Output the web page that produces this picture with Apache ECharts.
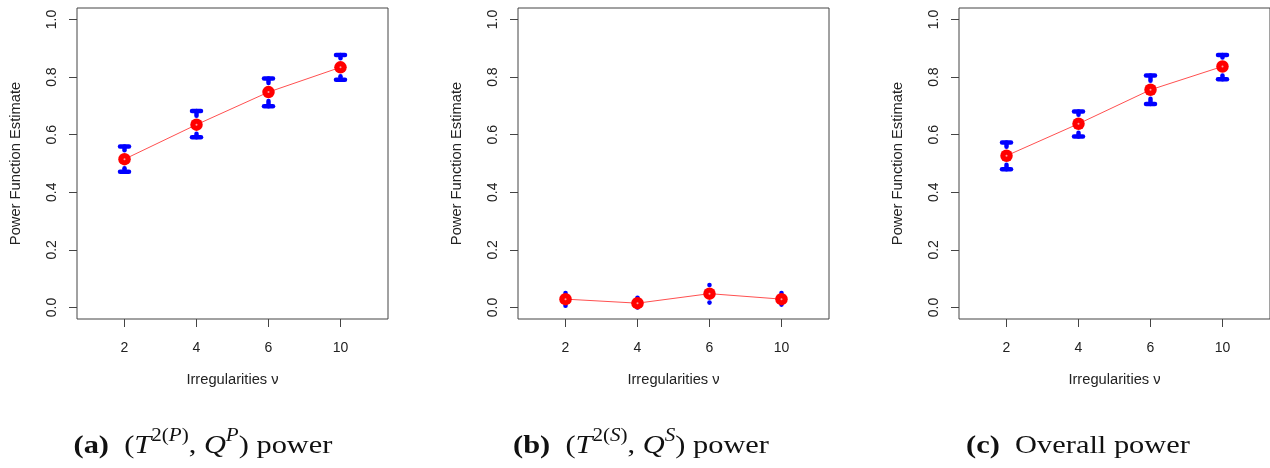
<!DOCTYPE html>
<html>
<head>
<meta charset="utf-8">
<script src="https://cdn.jsdelivr.net/npm/echarts@6/dist/echarts.min.js"></script>
<style>
  html, body { margin: 0; padding: 0; background: #fff; }
  #chart { width: 1270px; height: 468px; }
</style>
</head>
<body>
<div id="chart"></div>
<script>
// irregularity levels (x categories, placed at positions 1..4)
var xLabels = ['2', '4', '6', '10'];
var xPos = [1, 2, 3, 4];
var yTicks = [0, 0.2, 0.4, 0.6, 0.8, 1.0];

// (a) (T2(P), QP) power
var meanA = [0.515, 0.635, 0.748, 0.834];
var lowA  = [0.471, 0.591, 0.699, 0.791];
var highA = [0.559, 0.682, 0.795, 0.877];

// (b) (T2(S), QS) power
var meanB = [0.029, 0.015, 0.048, 0.029];
var lowB  = [0.006, 0.000, 0.017, 0.010];
var highB = [0.050, 0.034, 0.078, 0.050];

// (c) overall power
var meanC = [0.527, 0.638, 0.756, 0.837];
var lowC  = [0.480, 0.594, 0.707, 0.793];
var highC = [0.573, 0.681, 0.806, 0.877];

var panels = [
    { left: 77,  mean: meanA, low: lowA, high: highA },
    { left: 518, mean: meanB, low: lowB, high: highB },
    { left: 959, mean: meanC, low: lowC, high: highC }
];

var myChart = echarts.init(document.getElementById('chart'));

var GAP = 9;      // gap (px) kept free around the mean point
var CAP = 4.5;    // half width of the whisker caps

function renderBar(params, api) {
    var x = api.value(0);
    var pLo = api.coord([x, api.value(1)]);
    var pHi = api.coord([x, api.value(2)]);
    var pM = api.coord([x, api.value(3)]);
    var st = { stroke: '#0000ff', lineWidth: 4.5, lineCap: 'round' };
    var kids = [];
    // upper whisker
    if (pM[1] - GAP > pHi[1] + 1) {
        kids.push({ type: 'line', shape: { x1: pHi[0], y1: pHi[1], x2: pM[0], y2: pM[1] - GAP }, style: st });
        kids.push({ type: 'line', shape: { x1: pHi[0] - CAP, y1: pHi[1], x2: pHi[0] + CAP, y2: pHi[1] }, style: st });
    } else {
        kids.push({ type: 'circle', shape: { cx: pHi[0], cy: pHi[1], r: 2.3 }, style: { fill: '#0000ff' } });
    }
    // lower whisker
    if (pLo[1] - GAP > pM[1] + 1) {
        kids.push({ type: 'line', shape: { x1: pLo[0], y1: pLo[1], x2: pM[0], y2: pM[1] + GAP }, style: st });
        kids.push({ type: 'line', shape: { x1: pLo[0] - CAP, y1: pLo[1], x2: pLo[0] + CAP, y2: pLo[1] }, style: st });
    } else {
        kids.push({ type: 'circle', shape: { cx: pLo[0], cy: pLo[1], r: 2.3 }, style: { fill: '#0000ff' } });
    }
    return { type: 'group', children: kids };
}

var grids = [], xAxes = [], yAxes = [], series = [];
panels.forEach(function (p, i) {
    grids.push({
        left: p.left, top: 8, width: 311, height: 311,
        show: true, borderColor: '#444', borderWidth: 1, backgroundColor: 'transparent'
    });
    xAxes.push({
        gridIndex: i, type: 'value', min: 0.34, max: 4.66,
        name: 'Irregularities ν', nameLocation: 'middle', nameGap: 53,
        nameTextStyle: { fontFamily: 'Liberation Sans', fontSize: 14.7, color: '#222' },
        axisLine: { show: false, onZero: false },
        splitLine: { show: false },
        axisTick: { show: true, length: 8, customValues: xPos, lineStyle: { color: '#444' } },
        axisLabel: {
            customValues: xPos, margin: 22,
            fontFamily: 'Liberation Sans', fontSize: 14, color: '#222',
            formatter: function (v) { return xLabels[Math.round(v) - 1]; }
        }
    });
    yAxes.push({
        gridIndex: i, type: 'value', min: -0.04, max: 1.04,
        name: 'Power Function Estimate', nameLocation: 'middle', nameGap: 54,
        nameTextStyle: { fontFamily: 'Liberation Sans', fontSize: 14.7, color: '#222' },
        axisLine: { show: false, onZero: false },
        splitLine: { show: false },
        axisTick: { show: true, length: 8, customValues: yTicks, lineStyle: { color: '#444' } },
        axisLabel: {
            customValues: yTicks, rotate: 90, margin: 18,
            fontFamily: 'Liberation Sans', fontSize: 14, color: '#222',
            formatter: function (v) { return v.toFixed(1); }
        }
    });
    var barData = [], lineData = [];
    for (var k = 0; k < xPos.length; k++) {
        barData.push([xPos[k], p.low[k], p.high[k], p.mean[k]]);
        lineData.push([xPos[k], p.mean[k]]);
    }
    series.push({
        type: 'custom', xAxisIndex: i, yAxisIndex: i,
        renderItem: renderBar, data: barData, silent: true, z: 2
    });
    series.push({
        type: 'line', xAxisIndex: i, yAxisIndex: i, data: lineData,
        symbol: 'circle', symbolSize: 12.5,
        itemStyle: { color: '#ff0000' },
        lineStyle: { color: '#ff5050', width: 1 },
        silent: true, animation: false, z: 3
    });
    series.push({
        type: 'scatter', xAxisIndex: i, yAxisIndex: i, data: lineData,
        symbolSize: 2, itemStyle: { color: '#ffc8c8' }, silent: true, z: 4
    });
});

// captions under each panel (LaTeX style, approximated with a serif font)
var capFont = 'Liberation Serif';
var rich = {
    b: { fontFamily: capFont, fontSize: 26, fontWeight: 'bold', verticalAlign: 'bottom', lineHeight: 32 },
    r: { fontFamily: capFont, fontSize: 26, verticalAlign: 'bottom', lineHeight: 32 },
    i: { fontFamily: capFont, fontSize: 26, fontStyle: 'italic', verticalAlign: 'bottom', lineHeight: 32 },
    s: { fontFamily: capFont, fontSize: 18, verticalAlign: 'top', lineHeight: 18 },
    si: { fontFamily: capFont, fontSize: 18, fontStyle: 'italic', verticalAlign: 'top', lineHeight: 18 }
};
var captions = [
    { x: 203,  text: '{b|(a)}{r|  (}{i|T}{s|2(}{si|P}{s|)}{r|, }{i|Q}{si|P}{r|) power}' },
    { x: 641,  text: '{b|(b)}{r|  (}{i|T}{s|2(}{si|S}{s|)}{r|, }{i|Q}{si|S}{r|) power}' },
    { x: 1078, text: '{b|(c)}{r|  Overall power}' }
];

window.option = {
    backgroundColor: '#fff',
    animation: false,
    grid: grids,
    xAxis: xAxes,
    yAxis: yAxes,
    series: series,
    graphic: captions.map(function (c) {
        return {
            type: 'text', x: c.x, y: 443, scaleX: 1.17,
            style: { text: c.text, rich: rich, fill: '#111', align: 'center', verticalAlign: 'middle' }
        };
    })
};
myChart.setOption(option);
</script>
</body>
</html>
